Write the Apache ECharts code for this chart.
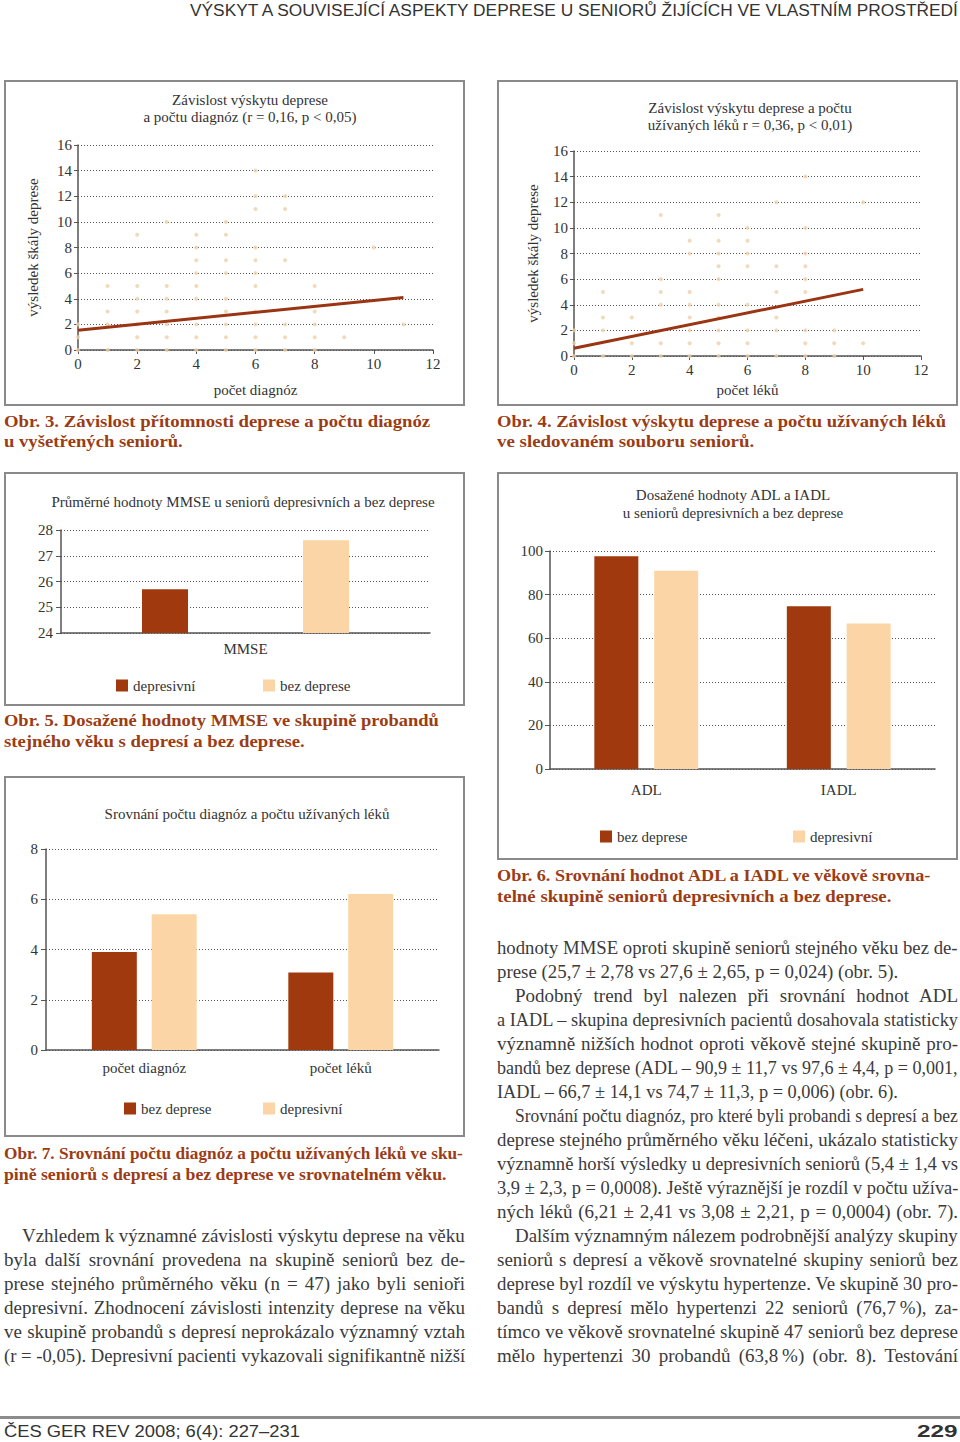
<!DOCTYPE html>
<html><head><meta charset="utf-8">
<script src="https://cdn.jsdelivr.net/npm/echarts@6/dist/echarts.min.js"></script>
<style>
html,body{margin:0;padding:0;background:#fff;}
#page{position:relative;width:960px;height:1442px;overflow:hidden;background:#fff;}
.chart{position:absolute;}
.ln{position:absolute;white-space:nowrap;line-height:24px;height:24px;}
.body{font-family:'Liberation Serif',serif;font-size:19px;color:#3b3b3b;}
.cap{font-family:'Liberation Serif',serif;font-size:17.5px;color:#9b3c14;font-weight:bold;}
.sans{font-family:'Liberation Sans',Arial,sans-serif;color:#333;font-size:16px;}
#rule{position:absolute;left:0;top:1416px;width:960px;height:3px;background:#8c8c8c;}
</style></head>
<body><div id="page"><div id="rule"></div></div>
<script>
// ---------- DATA ----------
const diagnozyPoints = [
 [0,0],[0,1],[0,2],
 [1,0],[1,2],[1,3],[1,5],
 [2,0],[2,1],[2,2],[2,3],[2,4],[2,5],[2,9],
 [3,0],[3,1],[3,2],[3,3],[3,4],[3,5],[3,10],
 [4,0],[4,1],[4,2],[4,4],[4,5],[4,6],[4,7],[4,8],[4,9],
 [5,0],[5,1],[5,2],[5,3],[5,4],[5,6],[5,7],[5,9],[5,10],
 [6,0],[6,1],[6,2],[6,3],[6,5],[6,6],[6,7],[6,8],[6,11],[6,12],[6,14],
 [7,0],[7,1],[7,2],[7,7],[7,11],[7,12],
 [8,0],[8,1],[8,2],[8,3],[8,5],
 [9,1],[10,8],[11,2]
];
const diagnozyTrend = [[0,1.55],[11,4.1]];
const lekyPoints = [
 [0,0],[0,1],[0,2],
 [1,0],[1,2],[1,3],[1,5],
 [2,0],[2,1],[2,3],
 [3,0],[3,1],[3,4],[3,5],[3,6],[3,11],
 [4,0],[4,1],[4,2],[4,3],[4,4],[4,5],[4,8],[4,9],
 [5,0],[5,1],[5,2],[5,3],[5,4],[5,6],[5,7],[5,8],[5,9],[5,11],
 [6,0],[6,1],[6,2],[6,4],[6,7],[6,8],[6,9],[6,10],
 [7,0],[7,2],[7,3],[7,5],[7,7],[7,12],
 [8,0],[8,1],[8,2],[8,5],[8,6],[8,7],[8,8],[8,10],[8,14],
 [9,0],[9,1],[9,2],
 [10,1],[10,12]
];
const lekyTrend = [[0,0.6],[10,5.2]];

const mmseCategories = ['MMSE'];
const mmseDepresivni = [25.7];
const mmseBezDeprese = [27.6];

const adlCategories = ['ADL','IADL'];
const adlBezDeprese = [97.6, 74.7];
const adlDepresivni = [90.9, 66.7];

const cmpCategories = ['počet diagnóz','počet léků'];
const cmpBezDeprese = [3.9, 3.08];
const cmpDepresivni = [5.4, 6.21];

// ---------- STYLE ----------
const SERIF = "'Liberation Serif', serif";
const DARK = '#a03a0e', LIGHT = '#fbd5a5', TXT = '#333';
const page = document.getElementById('page');

function makeChart(x,y,w,h,option){
  const d=document.createElement('div'); d.className='chart';
  d.style.left=x+'px'; d.style.top=y+'px'; d.style.width=w+'px'; d.style.height=h+'px';
  page.appendChild(d);
  const c=echarts.init(d,null,{renderer:'svg'});
  option.animation=false;
  option.graphic=[{type:'rect',silent:true,shape:{x:1,y:1,width:w-2,height:h-2},style:{fill:'none',stroke:'#8a8a8a',lineWidth:2}}];
  c.setOption(option);
}
function titleOf(text,cx,top,lh){
  return {text:text,left:cx,top:top,textAlign:'center',padding:0,itemGap:0,
    textStyle:{fontFamily:SERIF,fontSize:15,fontWeight:'normal',color:TXT,lineHeight:lh||17}};
}
const lbl = {fontFamily:SERIF,fontSize:15,color:TXT};
const axisLine = {show:true,lineStyle:{color:'#555',width:1.5}};
const dotted = {show:true,lineStyle:{type:[1,2],color:'#555',width:1}};

function scatterOpt(c){
  return {
    title:titleOf(c.title,c.tx,c.ty),
    grid:{left:c.gl,top:c.gt,width:c.gw,height:c.gh},
    xAxis:{type:'value',min:0,max:12,interval:2,name:c.xName,nameLocation:'middle',nameGap:c.xGap,
      nameTextStyle:lbl,axisLine:axisLine,axisTick:{show:true,length:4,lineStyle:{color:'#555'}},
      axisLabel:Object.assign({margin:6},lbl),splitLine:{show:false}},
    yAxis:{type:'value',min:0,max:16,interval:2,name:c.yName,nameLocation:'middle',nameRotate:90,nameGap:c.yGap,
      nameTextStyle:lbl,axisLine:axisLine,axisTick:{show:true,length:4,lineStyle:{color:'#555'}},
      axisLabel:Object.assign({margin:6},lbl),splitLine:dotted},
    series:[
      {type:'scatter',data:c.points,symbolSize:4,itemStyle:{color:'#efd0a8'},z:3},
      {type:'line',data:c.trend,showSymbol:false,lineStyle:{color:'#9a3412',width:3},z:4}
    ]
  };
}
function barOpt(c){
  return {
    title:titleOf(c.title,c.tx,c.ty,c.lh),
    legend:c.series.map(s=>({data:[s.name],left:s.lx,top:c.legTop,itemWidth:12,itemHeight:12,icon:'rect',padding:0,
      textStyle:lbl})),
    grid:{left:c.gl,top:c.gt,width:c.gw,height:c.gh},
    xAxis:{type:'category',data:c.cats,axisLine:axisLine,axisTick:{show:false},
      axisLabel:Object.assign({margin:c.xMargin},lbl)},
    yAxis:{type:'value',min:c.min,max:c.max,interval:c.step,axisLine:axisLine,
      axisTick:{show:true,length:5,lineStyle:{color:'#555'}},
      axisLabel:Object.assign({margin:c.yMargin},lbl),splitLine:dotted},
    series:c.series.map(s=>({type:'bar',name:s.name,data:s.data,barWidth:c.bw,barGap:c.gap,itemStyle:{color:s.color}}))
  };
}

// Obr. 3
makeChart(4,80,461,326,scatterOpt({
  title:'Závislost výskytu deprese\na počtu diagnóz (r = 0,16, p < 0,05)',tx:246,ty:11,
  gl:74,gt:65,gw:355,gh:205,xName:'počet diagnóz',xGap:32,yName:'výsledek škály deprese',yGap:38,
  points:diagnozyPoints,trend:diagnozyTrend}));
// Obr. 4
makeChart(497,80,461,326,scatterOpt({
  title:'Závislost výskytu deprese a počtu\nužívaných léků r = 0,36, p < 0,01)',tx:253,ty:19,
  gl:77,gt:71,gw:347,gh:205,xName:'počet léků',xGap:26,yName:'výsledek škály deprese',yGap:34,
  points:lekyPoints,trend:lekyTrend}));
// Obr. 5
makeChart(4,472,461,234,barOpt({
  title:'Průměrné hodnoty MMSE u seniorů depresivních a bez deprese',tx:239,ty:21,
  gl:57,gt:58,gw:369,gh:103,cats:mmseCategories,min:24,max:28,step:1,xMargin:8,yMargin:8,
  bw:46,gap:'250%',legTop:206,
  series:[{name:'depresivní',data:mmseDepresivni,color:DARK,lx:112},
          {name:'bez deprese',data:mmseBezDeprese,color:LIGHT,lx:259}]}));
// Obr. 6
makeChart(497,472,461,388,barOpt({
  title:'Dosažené hodnoty ADL a IADL\nu seniorů depresivních a bez deprese',tx:236,ty:14,lh:18,
  gl:53,gt:79,gw:385,gh:218,cats:adlCategories,min:0,max:100,step:20,xMargin:13,yMargin:7,
  bw:44,gap:'36%',legTop:357,
  series:[{name:'bez deprese',data:adlBezDeprese,color:DARK,lx:103},
          {name:'depresivní',data:adlDepresivni,color:LIGHT,lx:296}]}));
// Obr. 7
makeChart(4,776,461,361,barOpt({
  title:'Srovnání počtu diagnóz a počtu užívaných léků',tx:243,ty:29,
  gl:42,gt:73,gw:393,gh:201,cats:cmpCategories,min:0,max:8,step:2,xMargin:10,yMargin:8,
  bw:45,gap:'33%',legTop:325,
  series:[{name:'bez deprese',data:cmpBezDeprese,color:DARK,lx:120},
          {name:'depresivní',data:cmpDepresivni,color:LIGHT,lx:259}]}));

// ---------- TEXT ----------
function addLine(text,cls,x,cy,w,justify){
  const d=document.createElement('div'); d.className='ln '+cls; d.textContent=text;
  d.style.left=x+'px'; d.style.top=(cy-12)+'px';
  page.appendChild(d);
  const nat=d.offsetWidth;
  if(justify && nat<=w){
    d.style.width=w+'px'; d.style.whiteSpace='normal';
    d.style.textAlign='justify'; d.style.textAlignLast='justify';
  } else if(w){
    d.style.transformOrigin='0 50%'; d.style.transform='scaleX('+(w/nat)+')';
  }
  return d;
}
addLine('VÝSKYT A SOUVISEJÍCÍ ASPEKTY DEPRESE U SENIORŮ ŽIJÍCÍCH VE VLASTNÍM PROSTŘEDÍ','sans',190,11,768,false);

const caps = [
 ['Obr. 3. Závislost přítomnosti deprese a počtu diagnóz',4,421,426],
 ['u vyšetřených seniorů.',4,441,179],
 ['Obr. 4. Závislost výskytu deprese a počtu užívaných léků',497,421,449],
 ['ve sledovaném souboru seniorů.',497,441,257],
 ['Obr. 5. Dosažené hodnoty MMSE ve skupině probandů',4,720,435],
 ['stejného věku s depresí a bez deprese.',4,741,301],
 ['Obr. 6. Srovnání hodnot ADL a IADL ve věkově srovna-',497,875,433],
 ['telné skupině seniorů depresivních a bez deprese.',497,896,394],
 ['Obr. 7. Srovnání počtu diagnóz a počtu užívaných léků ve sku-',4,1153,459],
 ['pině seniorů s depresí a bez deprese ve srovnatelném věku.',4,1174,443]
];
caps.forEach(c=>addLine(c[0],'cap',c[1],c[2],c[3],false));

const leftCol = [
 'Vzhledem k významné závislosti výskytu deprese na věku',
 'byla další srovnání provedena na skupině seniorů bez de-',
 'prese stejného průměrného věku (n = 47) jako byli senioři',
 'depresivní. Zhodnocení závislosti intenzity deprese na věku',
 've skupině probandů s depresí neprokázalo významný vztah',
 '(r = -0,05). Depresivní pacienti vykazovali signifikantně nižší'
];
leftCol.forEach((t,i)=>{ const ind=i===0?18:0; addLine(t,'body',4+ind,1236+24*i,461-ind,true); });

const rightCol = [
 'hodnoty MMSE oproti skupině seniorů stejného věku bez de-',
 'prese (25,7 ± 2,78 vs 27,6 ± 2,65, p = 0,024) (obr. 5).',
 'Podobný trend byl nalezen při srovnání hodnot ADL',
 'a IADL – skupina depresivních pacientů dosahovala statisticky',
 'významně nižších hodnot oproti věkově stejné skupině pro-',
 'bandů bez deprese (ADL – 90,9 ± 11,7 vs 97,6 ± 4,4, p = 0,001,',
 'IADL – 66,7 ± 14,1 vs 74,7 ± 11,3, p = 0,006) (obr. 6).',
 'Srovnání počtu diagnóz, pro které byli probandi s depresí a bez',
 'deprese stejného průměrného věku léčeni, ukázalo statisticky',
 'významně horší výsledky u depresivních seniorů (5,4 ± 1,4 vs',
 '3,9 ± 2,3, p = 0,0008). Ještě výraznější je rozdíl v počtu užíva-',
 'ných léků (6,21 ± 2,41 vs 3,08 ± 2,21, p = 0,0004) (obr. 7).',
 'Dalším významným nálezem podrobnější analýzy skupiny',
 'seniorů s depresí a věkově srovnatelné skupiny seniorů bez',
 'deprese byl rozdíl ve výskytu hypertenze. Ve skupině 30 pro-',
 'bandů s depresí mělo hypertenzi 22 seniorů (76,7\u2009%), za-',
 'tímco ve věkově srovnatelné skupině 47 seniorů bez deprese',
 'mělo hypertenzi 30 probandů (63,8\u2009%) (obr. 8). Testování'
];
rightCol.forEach((t,i)=>{
  const ind=(i===2||i===7||i===12)?18:0;
  if(i===1||i===6) addLine(t,'body',497,948+24*i,401,false);
  else addLine(t,'body',497+ind,948+24*i,461-ind,true);
});

addLine('ČES GER REV 2008; 6(4): 227–231','sans',4,1432,296,false);
const pg = addLine('229','sans',917,1432,41,false);
pg.style.fontWeight='bold';
</script>
</body></html>
